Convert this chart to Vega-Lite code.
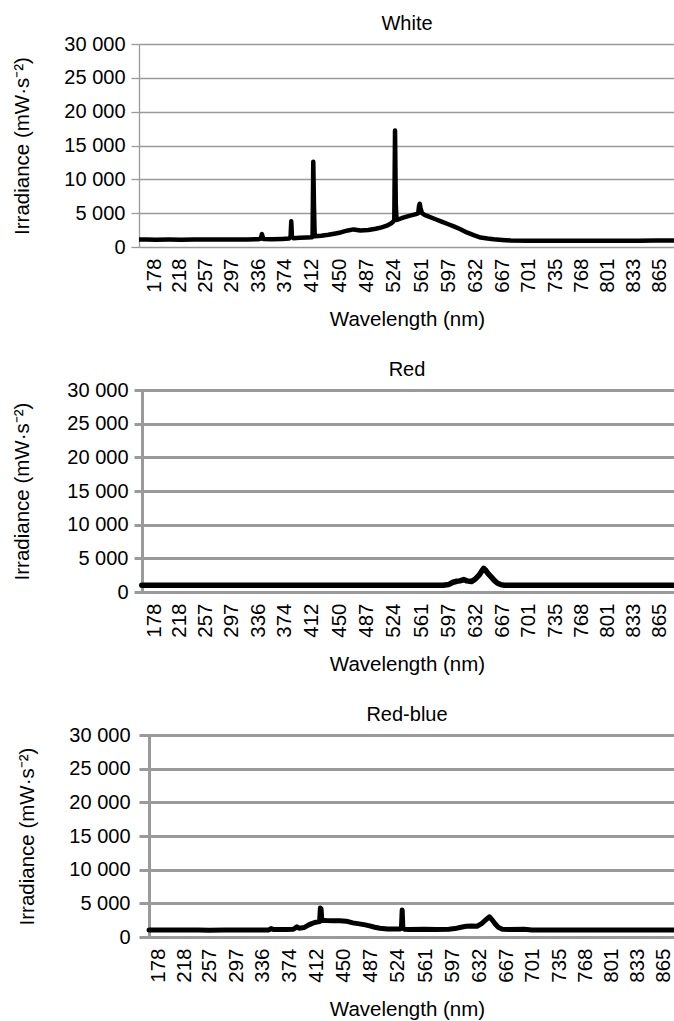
{
  "$schema": "https://vega.github.io/schema/vega-lite/v6.json",
  "padding": {"left": 12, "top": 14, "right": 0, "bottom": 0},
  "columns": 1,
  "align": "none",
  "spacing": 30,
  "datasets": {
    "white": [
      {"wl":153,"irr":1100},{"wl":165,"irr":1100},{"wl":180,"irr":1080},{"wl":200,"irr":1100},{"wl":220,"irr":1080},
      {"wl":240,"irr":1100},{"wl":260,"irr":1100},{"wl":280,"irr":1100},{"wl":300,"irr":1100},{"wl":320,"irr":1120},
      {"wl":335,"irr":1150},{"wl":339,"irr":1200},{"wl":341,"irr":1900},{"wl":343,"irr":1200},{"wl":355,"irr":1150},
      {"wl":370,"irr":1200},{"wl":380,"irr":1250},{"wl":382,"irr":1500},{"wl":383,"irr":3800},{"wl":384,"irr":1500},
      {"wl":386,"irr":1300},{"wl":395,"irr":1350},{"wl":405,"irr":1400},{"wl":412,"irr":1450},{"wl":413,"irr":1500},
      {"wl":414,"irr":12600},{"wl":415,"irr":6000},{"wl":416,"irr":1600},{"wl":425,"irr":1650},{"wl":435,"irr":1800},
      {"wl":445,"irr":2000},{"wl":452,"irr":2150},{"wl":462,"irr":2450},{"wl":470,"irr":2600},{"wl":479,"irr":2450},
      {"wl":490,"irr":2500},{"wl":500,"irr":2700},{"wl":508,"irr":2900},{"wl":515,"irr":3150},{"wl":521,"irr":3500},
      {"wl":524,"irr":3800},{"wl":525,"irr":4000},{"wl":526,"irr":17200},{"wl":527,"irr":6400},{"wl":528,"irr":4000},
      {"wl":531,"irr":4100},{"wl":537,"irr":4350},{"wl":545,"irr":4600},{"wl":554,"irr":4850},{"wl":557,"irr":5000},
      {"wl":558,"irr":6000},{"wl":559,"irr":6400},{"wl":560,"irr":5800},{"wl":562,"irr":5000},{"wl":566,"irr":4700},
      {"wl":572,"irr":4450},{"wl":580,"irr":4100},{"wl":588,"irr":3750},{"wl":596,"irr":3400},{"wl":604,"irr":3050},
      {"wl":612,"irr":2650},{"wl":621,"irr":2150},{"wl":630,"irr":1750},{"wl":639,"irr":1400},{"wl":648,"irr":1250},
      {"wl":656,"irr":1150},{"wl":667,"irr":1050},{"wl":678,"irr":950},{"wl":700,"irr":920},{"wl":720,"irr":930},
      {"wl":740,"irr":930},{"wl":760,"irr":930},{"wl":780,"irr":930},{"wl":800,"irr":940},{"wl":820,"irr":940},
      {"wl":840,"irr":940},{"wl":860,"irr":950},{"wl":884,"irr":950}
    ],
    "red": [
      {"wl":157,"irr":1000},{"wl":200,"irr":1000},{"wl":250,"irr":1000},{"wl":300,"irr":1000},{"wl":350,"irr":1000},
      {"wl":400,"irr":1000},{"wl":450,"irr":1000},{"wl":500,"irr":1000},{"wl":550,"irr":1000},{"wl":590,"irr":1000},
      {"wl":597,"irr":1100},{"wl":603,"irr":1450},{"wl":608,"irr":1600},{"wl":612,"irr":1650},{"wl":617,"irr":1850},
      {"wl":621,"irr":1650},{"wl":627,"irr":1550},{"wl":632,"irr":1900},{"wl":637,"irr":2500},{"wl":641,"irr":3200},
      {"wl":643,"irr":3500},{"wl":645,"irr":3300},{"wl":649,"irr":2700},{"wl":653,"irr":2200},{"wl":657,"irr":1700},
      {"wl":661,"irr":1300},{"wl":665,"irr":1100},{"wl":670,"irr":1000},{"wl":700,"irr":1000},{"wl":750,"irr":1000},
      {"wl":800,"irr":1000},{"wl":850,"irr":1000},{"wl":884,"irr":1000}
    ],
    "redblue": [
      {"wl":162,"irr":1050},{"wl":200,"irr":1050},{"wl":240,"irr":1050},{"wl":257,"irr":1000},{"wl":280,"irr":1050},
      {"wl":320,"irr":1050},{"wl":345,"irr":1050},{"wl":348,"irr":1250},{"wl":352,"irr":1100},{"wl":370,"irr":1100},
      {"wl":380,"irr":1150},{"wl":385,"irr":1500},{"wl":388,"irr":1300},{"wl":395,"irr":1400},{"wl":400,"irr":1700},
      {"wl":405,"irr":1950},{"wl":410,"irr":2150},{"wl":415,"irr":2250},{"wl":417,"irr":2300},{"wl":418,"irr":4300},
      {"wl":419,"irr":4200},{"wl":420,"irr":2500},{"wl":426,"irr":2450},{"wl":435,"irr":2400},{"wl":445,"irr":2400},
      {"wl":454,"irr":2350},{"wl":463,"irr":2100},{"wl":472,"irr":1950},{"wl":480,"irr":1800},{"wl":486,"irr":1650},
      {"wl":493,"irr":1450},{"wl":500,"irr":1300},{"wl":510,"irr":1200},{"wl":519,"irr":1200},{"wl":527,"irr":1200},
      {"wl":529,"irr":1300},{"wl":530,"irr":4000},{"wl":531,"irr":1300},{"wl":533,"irr":1150},{"wl":540,"irr":1100},
      {"wl":560,"irr":1150},{"wl":575,"irr":1100},{"wl":592,"irr":1150},{"wl":600,"irr":1250},{"wl":608,"irr":1450},
      {"wl":615,"irr":1600},{"wl":622,"irr":1650},{"wl":629,"irr":1600},{"wl":635,"irr":2000},{"wl":640,"irr":2500},
      {"wl":645,"irr":3000},{"wl":649,"irr":2500},{"wl":653,"irr":1900},{"wl":657,"irr":1400},{"wl":662,"irr":1150},
      {"wl":670,"irr":1100},{"wl":690,"irr":1150},{"wl":700,"irr":1050},{"wl":740,"irr":1050},{"wl":800,"irr":1050},
      {"wl":879,"irr":1050}
    ]
  },
  "concat": [
    {
      "title": {"text": "White", "frame": "group", "offset": 0},
      "width": 536, "height": 203,
      "data": {"name": "white"},
      "mark": {"type": "line", "color": "black", "strokeWidth": 4.5, "strokeJoin": "round", "strokeCap": "round", "clip": true},
      "encoding": {
        "x": {"field": "wl", "type": "quantitative",
          "scale": {"type": "pow", "exponent": 1.17, "domain": [152.5, 884.4], "nice": false, "zero": false},
          "axis": {"title": "Wavelength (nm)", "values": [178,218,257,297,336,374,412,450,487,524,561,597,632,667,701,735,768,801,833,865],
            "labelAngle": 270, "labelPadding": 11, "ticks": false, "grid": false, "domain": false,
            "labelFontSize": 20.5, "titleFontSize": 20.5, "titlePadding": 17, "labelOverlap": false, "labelFlush": false, "labelBound": false}},
        "y": {"field": "irr", "type": "quantitative",
          "scale": {"domain": [0, 30000], "nice": false},
          "axis": {"title": "Irradiance (mW·s⁻²)", "values": [0,5000,10000,15000,20000,25000,30000],
            "labelExpr": "replace(format(datum.value, ','), ',', ' ')",
            "tickSize": 8, "tickColor": "#9a9a9a", "tickWidth": 1.3, "domainColor": "#9a9a9a", "domainWidth": 1.3,
            "gridColor": "#9a9a9a", "gridWidth": 1.3, "labelPadding": 6, "titlePadding": 31,
            "labelFontSize": 20, "titleFontSize": 20.5}}
      }
    },
    {
      "title": {"text": "Red", "frame": "group", "offset": 0},
      "width": 536, "height": 202,
      "data": {"name": "red"},
      "mark": {"type": "line", "color": "black", "strokeWidth": 5.5, "strokeJoin": "round", "strokeCap": "round", "clip": true},
      "encoding": {
        "x": {"field": "wl", "type": "quantitative",
          "scale": {"type": "pow", "exponent": 1.17, "domain": [152.5, 884.4], "nice": false, "zero": false},
          "axis": {"title": "Wavelength (nm)", "values": [178,218,257,297,336,374,412,450,487,524,561,597,632,667,701,735,768,801,833,865],
            "labelAngle": 270, "labelPadding": 11, "ticks": false, "grid": false, "domain": false,
            "labelFontSize": 20.5, "titleFontSize": 20.5, "titlePadding": 17, "labelOverlap": false, "labelFlush": false, "labelBound": false}},
        "y": {"field": "irr", "type": "quantitative",
          "scale": {"domain": [0, 30000], "nice": false},
          "axis": {"title": "Irradiance (mW·s⁻²)", "values": [0,5000,10000,15000,20000,25000,30000],
            "labelExpr": "replace(format(datum.value, ','), ',', ' ')", "offset": -3,
            "tickSize": 8, "tickColor": "#9a9a9a", "tickWidth": 3, "domainColor": "#9a9a9a", "domainWidth": 3,
            "gridColor": "#9a9a9a", "gridWidth": 3, "labelPadding": 6, "titlePadding": 34,
            "labelFontSize": 20, "titleFontSize": 20.5}}
      }
    },
    {
      "title": {"text": "Red-blue", "frame": "group", "offset": 0},
      "width": 536, "height": 202,
      "data": {"name": "redblue"},
      "mark": {"type": "line", "color": "black", "strokeWidth": 5, "strokeJoin": "round", "strokeCap": "round", "clip": true},
      "encoding": {
        "x": {"field": "wl", "type": "quantitative",
          "scale": {"type": "pow", "exponent": 1.17, "domain": [145.3, 879.5], "nice": false, "zero": false},
          "axis": {"title": "Wavelength (nm)", "values": [178,218,257,297,336,374,412,450,487,524,561,597,632,667,701,735,768,801,833,865],
            "labelAngle": 270, "labelPadding": 11, "ticks": false, "grid": false, "domain": false,
            "labelFontSize": 20.5, "titleFontSize": 20.5, "titlePadding": 17, "labelOverlap": false, "labelFlush": false, "labelBound": false}},
        "y": {"field": "irr", "type": "quantitative",
          "scale": {"domain": [0, 30000], "nice": false},
          "axis": {"title": "Irradiance (mW·s⁻²)", "values": [0,5000,10000,15000,20000,25000,30000],
            "labelExpr": "replace(format(datum.value, ','), ',', ' ')", "offset": -10,
            "tickSize": 8, "tickColor": "#9a9a9a", "tickWidth": 3, "domainColor": "#9a9a9a", "domainWidth": 3,
            "gridColor": "#9a9a9a", "gridWidth": 3, "labelPadding": 11, "titlePadding": 31,
            "labelFontSize": 20, "titleFontSize": 20.5}}
      }
    }
  ],
  "config": {
    "font": "Liberation Sans",
    "view": {"stroke": null},
    "axis": {"labelColor": "#000", "titleColor": "#000", "titleFontWeight": "normal"},
    "title": {"fontWeight": "normal", "fontSize": 20, "color": "#000"}
  }
}
